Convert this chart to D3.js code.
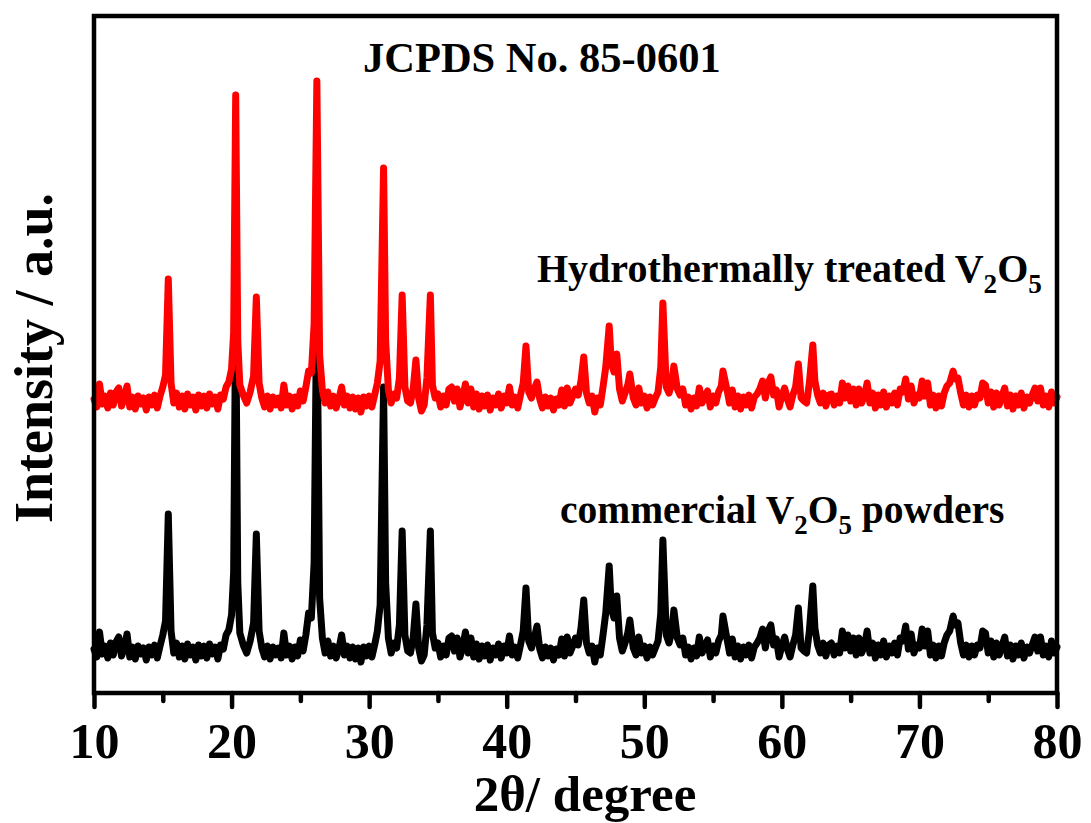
<!DOCTYPE html>
<html>
<head>
<meta charset="utf-8">
<script src="https://cdn.jsdelivr.net/npm/d3@7"></script>
<style>
  body { margin: 0; background: #fff; }
  svg { display: block; }
  text { font-family: "Liberation Serif", "Times New Roman", serif; font-weight: bold; fill: #000; }
</style>
</head>
<body>
<script>
const width = 1091;
const height = 823;
const margin = {top: 16, right: 31, bottom: 130, left: 94};

// 2theta grid shared by both patterns (10 points per row)
const twoTheta = [
  10.0, 10.2, 10.4, 10.6, 10.8, 11.0, 11.2, 11.4, 11.6, 11.8,
  12.0, 12.2, 12.4, 12.6, 12.8, 13.0, 13.2, 13.4, 13.6, 13.8,
  14.0, 14.2, 14.4, 14.6, 14.8, 15.0, 15.2, 15.4, 15.6, 15.8,
  16.0, 16.2, 16.4, 16.6, 16.8, 17.0, 17.2, 17.4, 17.6, 17.8,
  18.0, 18.2, 18.4, 18.6, 18.8, 19.0, 19.2, 19.4, 19.6, 19.8,
  20.0, 20.15, 20.3, 20.45, 20.6, 20.85, 21.1, 21.35, 21.6, 21.8,
  22.0, 22.2, 22.4, 22.6, 22.8, 23.0, 23.2, 23.4, 23.6, 23.8,
  24.0, 24.2, 24.4, 24.6, 24.8, 25.0, 25.2, 25.4, 25.6, 25.8,
  26.0, 26.2, 26.4, 26.6, 26.8, 27.0, 27.2, 27.4, 27.6, 27.8,
  28.0, 28.2, 28.4, 28.6, 28.8, 29.0, 29.2, 29.4, 29.6, 29.8,
  30.0, 30.2, 30.4, 30.6, 30.8, 31.05, 31.2, 31.4, 31.6, 31.8,
  32.0, 32.2, 32.4, 32.6, 32.8, 33.0, 33.2, 33.4, 33.6, 33.8,
  34.0, 34.2, 34.45, 34.6, 34.8, 35.0, 35.2, 35.4, 35.6, 35.8,
  36.0, 36.2, 36.4, 36.6, 36.8, 37.0, 37.2, 37.4, 37.6, 37.8,
  38.0, 38.2, 38.4, 38.6, 38.8, 39.0, 39.2, 39.4, 39.6, 39.8,
  40.0, 40.2, 40.4, 40.6, 40.8, 41.0, 41.2, 41.4, 41.6, 41.8,
  42.0, 42.2, 42.4, 42.6, 42.8, 43.0, 43.2, 43.4, 43.6, 43.8,
  44.0, 44.2, 44.4, 44.6, 44.8, 45.0, 45.2, 45.4, 45.6, 45.8,
  46.0, 46.2, 46.4, 46.6, 46.8, 47.0, 47.2, 47.45, 47.6, 47.8,
  48.0, 48.2, 48.4, 48.6, 48.8, 48.95, 49.2, 49.4, 49.6, 49.8,
  50.0, 50.2, 50.4, 50.6, 50.8, 51.0, 51.2, 51.35, 51.6, 51.8,
  52.0, 52.15, 52.4, 52.6, 52.8, 53.0, 53.2, 53.4, 53.6, 53.8,
  54.0, 54.2, 54.4, 54.6, 54.8, 55.0, 55.2, 55.4, 55.6, 55.72,
  56.0, 56.2, 56.4, 56.6, 56.8, 57.0, 57.2, 57.4, 57.6, 57.8,
  58.0, 58.2, 58.4, 58.6, 58.8, 59.0, 59.2, 59.4, 59.6, 59.8,
  60.0, 60.2, 60.4, 60.6, 60.8, 61.0, 61.2, 61.4, 61.6, 61.8,
  62.0, 62.25, 62.4, 62.6, 62.8, 63.0, 63.2, 63.4, 63.6, 63.8,
  64.0, 64.2, 64.4, 64.6, 64.8, 65.0, 65.2, 65.4, 65.6, 65.8,
  66.0, 66.2, 66.4, 66.6, 66.8, 67.0, 67.2, 67.4, 67.6, 67.8,
  68.0, 68.2, 68.4, 68.6, 68.8, 69.0, 69.2, 69.4, 69.6, 69.8,
  70.0, 70.2, 70.4, 70.6, 70.8, 71.0, 71.2, 71.4, 71.6, 71.8,
  72.0, 72.2, 72.45, 72.6, 72.8, 73.0, 73.2, 73.4, 73.6, 73.8,
  74.0, 74.2, 74.4, 74.6, 74.8, 75.0, 75.2, 75.4, 75.6, 75.8,
  76.0, 76.2, 76.4, 76.6, 76.8, 77.0, 77.2, 77.4, 77.6, 77.8,
  78.0, 78.2, 78.4, 78.6, 78.8, 79.0, 79.2, 79.4, 79.6, 79.8,
  80.0
];

// commercial V2O5 powders (black), a.u.
const commercial = [
  44, 36, 61, 39, 47, 35, 50, 38, 51, 56,
  37, 45, 59, 36, 46, 34, 47, 39, 45, 33,
  46, 38, 48, 35, 47, 58, 72, 179, 62, 40,
  50, 36, 47, 34, 49, 38, 46, 33, 48, 37,
  47, 35, 49, 39, 46, 34, 48, 44, 58, 63,
  78, 120, 389, 110, 60, 48, 40, 52, 70, 159,
  62, 45, 36, 47, 34, 46, 38, 45, 35, 60,
  38, 47, 34, 46, 37, 53, 42, 58, 80, 75,
  130, 405, 95, 55, 40, 52, 37, 47, 35, 44,
  58, 38, 47, 35, 46, 34, 45, 31, 46, 37,
  47, 36, 48, 62, 88, 306, 110, 55, 40, 50,
  45, 68, 162, 58, 42, 40, 55, 89, 45, 32,
  38, 68, 162, 60, 45, 50, 36, 47, 38, 55,
  57, 42, 55, 36, 46, 61, 40, 55, 36, 49,
  34, 47, 37, 48, 33, 45, 38, 49, 35, 47,
  40, 57, 38, 46, 35, 48, 62, 105, 52, 45,
  55, 67, 44, 35, 46, 37, 45, 33, 44, 38,
  54, 37, 56, 40, 47, 55, 48, 65, 93, 50,
  40, 47, 31, 45, 38, 58, 80, 127, 85, 75,
  97, 55, 42, 50, 60, 73, 45, 38, 56, 40,
  47, 35, 46, 38, 45, 52, 80, 153, 58, 50,
  62, 83, 55, 48, 55, 38, 46, 34, 45, 37,
  56, 40, 47, 53, 36, 47, 40, 52, 58, 77,
  55, 40, 54, 36, 47, 34, 46, 38, 48, 35,
  46, 50, 55, 64, 45, 62, 68, 48, 54, 36,
  47, 56, 44, 36, 48, 58, 85, 45, 42, 40,
  62, 107, 65, 48, 40, 50, 37, 48, 50, 38,
  47, 40, 62, 45, 58, 42, 55, 38, 55, 40,
  47, 62, 40, 50, 35, 48, 38, 52, 36, 47,
  40, 50, 38, 55, 52, 67, 44, 59, 40, 48,
  45, 64, 47, 62, 38, 48, 35, 47, 37, 50,
  58, 62, 77, 68, 70, 50, 38, 48, 36, 47,
  38, 48, 45, 62, 60, 40, 52, 36, 50, 38,
  47, 56, 37, 48, 34, 47, 38, 50, 35, 46,
  40, 48, 56, 42, 56, 38, 47, 36, 52, 40,
  46
];

// hydrothermally treated V2O5 (red), a.u., before stacking offset
const hydrothermal = [
  44, 36, 59, 39, 47, 35, 50, 38, 51, 55,
  37, 45, 57, 36, 46, 34, 47, 39, 45, 33,
  46, 38, 48, 35, 47, 56, 68, 164, 60, 40,
  50, 36, 47, 34, 49, 38, 46, 33, 48, 37,
  47, 35, 49, 39, 46, 34, 48, 44, 56, 61,
  74, 110, 348, 102, 58, 48, 40, 51, 67, 146,
  60, 45, 36, 47, 34, 46, 38, 45, 35, 58,
  38, 47, 34, 46, 37, 52, 42, 56, 72, 70,
  119, 362, 88, 53, 40, 51, 37, 47, 35, 44,
  56, 38, 47, 35, 46, 34, 45, 31, 46, 37,
  47, 36, 48, 60, 82, 275, 102, 53, 40, 49,
  45, 65, 148, 56, 42, 40, 54, 83, 45, 32,
  38, 65, 148, 58, 45, 49, 36, 47, 38, 54,
  56, 42, 54, 36, 46, 59, 40, 54, 36, 49,
  34, 47, 37, 48, 33, 45, 38, 49, 35, 47,
  40, 56, 38, 46, 35, 48, 60, 97, 51, 45,
  54, 61, 44, 35, 46, 37, 45, 33, 44, 38,
  53, 37, 55, 40, 47, 54, 48, 62, 86, 50,
  40, 47, 31, 45, 38, 56, 76, 117, 80, 71,
  89, 54, 42, 50, 58, 69, 45, 38, 55, 40,
  47, 35, 46, 38, 45, 51, 76, 140, 56, 50,
  60, 77, 54, 48, 54, 38, 46, 34, 45, 37,
  55, 40, 47, 52, 36, 47, 40, 51, 57, 72,
  54, 40, 53, 36, 47, 34, 46, 38, 48, 35,
  46, 49, 54, 62, 45, 60, 66, 48, 53, 36,
  47, 55, 44, 36, 48, 56, 79, 45, 42, 40,
  60, 98, 62, 48, 40, 50, 37, 48, 49, 38,
  47, 40, 60, 45, 57, 42, 54, 38, 54, 40,
  47, 60, 40, 50, 35, 48, 38, 51, 36, 47,
  40, 50, 38, 54, 51, 64, 44, 57, 40, 48,
  45, 62, 47, 60, 38, 48, 35, 47, 37, 50,
  57, 60, 72, 64, 65, 50, 38, 48, 36, 47,
  38, 48, 45, 60, 58, 40, 51, 36, 50, 38,
  47, 55, 37, 48, 34, 47, 38, 50, 35, 46,
  40, 48, 55, 42, 55, 38, 47, 36, 51, 40,
  46
];

const hydroOffset = 250;
const majorTicks = [10, 20, 30, 40, 50, 60, 70, 80];
const minorTicks = [15, 25, 35, 45, 55, 65, 75];

const x = d3.scaleLinear()
  .domain([10, 80])
  .range([margin.left, width - margin.right - 3]);

const y = d3.scaleLinear()
  .domain([0, 677])
  .range([height - margin.bottom, margin.top]);

const svg = d3.select('body').append('svg')
  .attr('width', width)
  .attr('height', height);

const line = d3.line()
  .x(d => x(d[0]))
  .y(d => y(d[1]));

const black = d3.zip(twoTheta, commercial);
const red = d3.zip(twoTheta, hydrothermal.map(v => v + hydroOffset));

svg.append('path')
  .datum(black)
  .attr('fill', 'none')
  .attr('stroke', '#000')
  .attr('stroke-width', 7)
  .attr('stroke-linejoin', 'round')
  .attr('stroke-linecap', 'round')
  .attr('d', line);

svg.append('path')
  .datum(red)
  .attr('fill', 'none')
  .attr('stroke', '#ff0000')
  .attr('stroke-width', 7)
  .attr('stroke-linejoin', 'round')
  .attr('stroke-linecap', 'round')
  .attr('d', line);

// frame
svg.append('rect')
  .attr('x', x(10))
  .attr('y', y(677))
  .attr('width', x(80) - x(10))
  .attr('height', y(0) - y(677))
  .attr('fill', 'none')
  .attr('stroke', '#000')
  .attr('stroke-width', 4.5);

// x axis, major + minor ticks
const xAxis = svg.append('g')
  .attr('transform', `translate(0,${y(0)})`)
  .call(d3.axisBottom(x).tickValues(majorTicks).tickSize(14).tickPadding(15));
xAxis.select('.domain').remove();
xAxis.selectAll('.tick line')
  .attr('stroke-width', 4.5)
  .attr('stroke-linecap', 'round');
xAxis.selectAll('.tick text')
  .attr('font-size', 50)
  .attr('font-family', '"Liberation Serif", serif')
  .attr('font-weight', 'bold')
  .attr('fill', '#000');

const xMinor = svg.append('g')
  .attr('transform', `translate(0,${y(0)})`)
  .call(d3.axisBottom(x).tickValues(minorTicks).tickSize(8).tickFormat(''));
xMinor.select('.domain').remove();
xMinor.selectAll('.tick line')
  .attr('stroke-width', 4.5)
  .attr('stroke-linecap', 'round');

// axis titles
svg.append('text')
  .attr('x', 585)
  .attr('y', 811)
  .attr('text-anchor', 'middle')
  .attr('font-size', 51)
  .text('2θ/ degree');

svg.append('text')
  .attr('transform', 'translate(52,358) rotate(-90)')
  .attr('text-anchor', 'middle')
  .attr('font-size', 54)
  .text('Intensity / a.u.');

// annotations
svg.append('text')
  .attr('x', 363)
  .attr('y', 72)
  .attr('font-size', 42.5)
  .text('JCPDS No. 85-0601');

function formulaLabel(px, py, size, before, after) {
  const t = svg.append('text')
    .attr('x', px)
    .attr('y', py)
    .attr('font-size', size);
  t.append('tspan').text(before + 'V');
  t.append('tspan').attr('dy', 11).attr('font-size', size * 0.68).text('2');
  t.append('tspan').attr('dy', -11).text('O');
  t.append('tspan').attr('dy', 11).attr('font-size', size * 0.68).text('5');
  t.append('tspan').attr('dy', -11).text(after);
}

formulaLabel(537, 282, 40, 'Hydrothermally treated ', '');
formulaLabel(560, 523, 39.5, 'commercial ', ' powders');
</script>
</body>
</html>
